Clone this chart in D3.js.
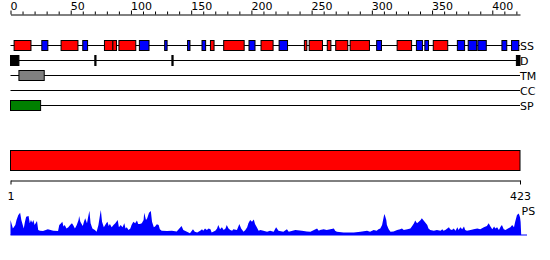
<!DOCTYPE html>
<meta charset="utf-8" />
<style>
  body { margin: 0; background: #fff; }
  svg { display: block; }
  text { font-family: "DejaVu Sans", sans-serif; font-size: 11px; fill: #000; }
</style>
<body>
<script src="https://d3js.org/d3.v7.min.js"></script>
<script>
  // sequence length
  var seqLen = 423;

  // secondary structure (H = helix, E = strand)
  var ssStart = [3, 26, 42, 60, 78, 85, 90, 107, 128, 147, 159, 166, 177, 198, 208, 223, 244, 248, 263, 270, 282, 304, 321, 337, 344, 351, 371, 380, 388, 408, 416];
  var ssEnd   = [17, 31, 56, 64, 85, 88, 104, 115, 130, 149, 162, 169, 194, 203, 218, 230, 246, 259, 266, 280, 298, 308, 333, 342, 347, 363, 377, 387, 395, 412, 422];
  var ssType  = ["H","E","H","E","H","H","H","E","E","E","E","H","H","E","H","E","H","H","H","H","H","E","H","E","E","H","E","E","E","E","E"];

  // disorder (D), transmembrane (TM), coiled coil (CC), signal peptide (SP)
  var dStart = [0, 70, 134, 420];
  var dEnd   = [7, 71, 135, 423];
  var tmStart = [7];
  var tmEnd   = [28];
  var ccStart = [];
  var ccEnd   = [];
  var spStart = [0];
  var spEnd   = [25];

  var trackNames = ["SS", "D", "TM", "CC", "SP"];

  // profile (PS)
  var psPos = [0, 2, 4, 5, 6.5, 8, 9, 11, 12, 13, 15, 16, 17, 18, 19, 20, 22, 23, 24.5, 27, 31, 35.5, 39.5, 40.5, 42, 43, 44, 45, 46.5, 48, 49.5, 51, 52, 53.5, 55, 56.5, 57, 58, 60, 61, 62, 63.5, 64.5, 65.5, 66.5, 68, 70, 71.5, 73, 74.5, 75, 76, 77.5, 79.5, 80.5, 81.5, 82.5, 84, 85.5, 87, 89, 90, 91.5, 93, 94.5, 95.5, 96.5, 98, 99.5, 100.5, 102, 103.5, 105, 106, 107.5, 109, 110.5, 111, 112.5, 113.5, 115, 116.5, 117.5, 119, 120, 121.5, 123, 124, 125.5, 130, 134, 138, 142, 143.5, 146.5, 149, 151.5, 153, 155, 157.5, 159, 160, 161.5, 163, 164.5, 166, 167, 170, 171.5, 172.5, 174, 175.5, 177, 178.5, 179.5, 181, 182.5, 184, 185, 188, 190, 191.5, 193.5, 195, 196.5, 197.5, 199, 200.5, 202, 203, 204.5, 206, 207.5, 210, 213, 215.5, 218.5, 220.5, 222.5, 226.5, 229.5, 231, 236.5, 242, 246, 249, 254.5, 256, 257, 260, 262.5, 265.5, 268.5, 269.5, 271, 276.5, 285, 290.5, 296, 298.5, 301.5, 304, 305.5, 307, 308.5, 310, 310.5, 312, 312.5, 314, 315.5, 318, 321, 323.5, 325, 326.5, 329.5, 332, 333.5, 335, 336, 337.5, 339, 340.5, 341.5, 343, 344.5, 346, 347, 348.5, 351.5, 354, 357, 358.5, 359.5, 361, 364, 365, 366.5, 368, 369.5, 371, 372, 373.5, 375, 376.5, 377.5, 379, 382, 384.5, 387.5, 390, 393, 395.5, 397, 398.5, 400, 401.5, 402.5, 404, 405.5, 407, 408, 409.5, 411, 413, 415, 416.5, 418, 419, 420.5, 422, 423, 423.5, 424];
  var psVal = [0.5, 0.22, 0.33, 0.5, 0.67, 0.74, 0.5, 0.22, 0.44, 0.61, 0.63, 0.39, 0.5, 0.41, 0.5, 0.33, 0.47, 0.17, 0.14, 0.13, 0.19, 0.14, 0.13, 0.33, 0.39, 0.44, 0.28, 0.33, 0.22, 0.26, 0.33, 0.39, 0.33, 0.22, 0.33, 0.5, 0.63, 0.44, 0.3, 0.44, 0.56, 0.39, 0.61, 0.81, 0.39, 0.22, 0.17, 0.11, 0.33, 0.72, 0.83, 0.44, 0.26, 0.39, 0.44, 0.3, 0.37, 0.26, 0.33, 0.39, 0.5, 0.26, 0.33, 0.26, 0.39, 0.22, 0.26, 0.17, 0.22, 0.33, 0.44, 0.39, 0.48, 0.37, 0.37, 0.39, 0.5, 0.74, 0.5, 0.56, 0.74, 0.8, 0.44, 0.26, 0.28, 0.36, 0.33, 0.19, 0.14, 0.13, 0.14, 0.12, 0.3, 0.17, 0.11, 0.06, 0.19, 0.11, 0.08, 0.14, 0.19, 0.14, 0.22, 0.17, 0.22, 0.19, 0.08, 0.14, 0.22, 0.33, 0.19, 0.26, 0.17, 0.22, 0.33, 0.22, 0.17, 0.14, 0.19, 0.17, 0.37, 0.22, 0.11, 0.17, 0.26, 0.39, 0.5, 0.44, 0.52, 0.37, 0.26, 0.14, 0.17, 0.14, 0.11, 0.14, 0.11, 0.26, 0.14, 0.11, 0.19, 0.11, 0.17, 0.14, 0.12, 0.11, 0.22, 0.14, 0.17, 0.19, 0.17, 0.19, 0.22, 0.14, 0.11, 0.08, 0.08, 0.11, 0.14, 0.11, 0.17, 0.14, 0.19, 0.22, 0.33, 0.63, 0.7, 0.5, 0.33, 0.19, 0.11, 0.12, 0.17, 0.19, 0.22, 0.17, 0.19, 0.22, 0.3, 0.39, 0.48, 0.39, 0.44, 0.5, 0.56, 0.48, 0.41, 0.33, 0.22, 0.17, 0.14, 0.17, 0.14, 0.19, 0.14, 0.17, 0.26, 0.19, 0.17, 0.22, 0.14, 0.26, 0.17, 0.26, 0.19, 0.28, 0.17, 0.14, 0.17, 0.19, 0.22, 0.19, 0.26, 0.3, 0.39, 0.28, 0.19, 0.28, 0.22, 0.26, 0.17, 0.28, 0.33, 0.19, 0.17, 0.22, 0.26, 0.33, 0.26, 0.44, 0.67, 0.72, 0.59, 0.44, 0];

  var width = 550, height = 260;

  var svg = d3.select("body").append("svg")
    .attr("width", width)
    .attr("height", height);

  var x = d3.scaleLinear().domain([0, seqLen]).range([10.5, 520]);

  // top ruler, labels start at their tick
  var topAxis = svg.append("g")
    .attr("transform", "translate(0,14.5)")
    .call(d3.axisTop(x)
      .tickValues(d3.range(0, 421, 10))
      .tickSize(3)
      .tickSizeOuter(0)
      .tickPadding(2)
      .tickFormat(function(d) { return d % 50 ? "" : d; }));
  topAxis.attr("font-family", null).attr("font-size", null).attr("text-anchor", null);
  topAxis.selectAll("text").style("text-anchor", "start").attr("x", -0.5);
  topAxis.selectAll(".tick line").filter(function(d) { return d % 50 === 0; }).attr("y2", -4);

  // tracks
  var trackY = d3.scalePoint().domain(trackNames).range([45.5, 105.5]);

  function track(name, starts, ends, fill) {
    var y = trackY(name);
    var g = svg.append("g");
    g.append("line")
      .attr("x1", x(0)).attr("x2", x(seqLen))
      .attr("y1", y).attr("y2", y)
      .attr("stroke", "#000");
    g.selectAll("rect")
      .data(d3.range(starts.length))
      .enter()
      .append("rect")
      .attr("x", function(i) { return x(starts[i]); })
      .attr("width", function(i) { return x(ends[i]) - x(starts[i]); })
      .attr("y", y - 5)
      .attr("height", 10)
      .attr("fill", function(i) { return typeof fill === "function" ? fill(i) : fill; })
      .attr("stroke", "#000");
    g.append("text")
      .attr("x", x(seqLen))
      .attr("y", y + 4.5)
      .text(name);
  }

  track("SS", ssStart, ssEnd, function(i) { return ssType[i] === "H" ? "#ff0000" : "#0000ff"; });
  track("D", dStart, dEnd, "#000");
  track("TM", tmStart, tmEnd, "#808080");
  track("CC", ccStart, ccEnd, "#000");
  track("SP", spStart, spEnd, "#008000");

  // whole-chain bar
  svg.append("rect")
    .attr("x", x(0))
    .attr("width", x(seqLen) - x(0))
    .attr("y", 150.5)
    .attr("height", 20)
    .attr("fill", "#ff0000")
    .attr("stroke", "#000");

  // bottom ruler
  var xb = d3.scaleLinear().domain([1, seqLen]).range(x.range());
  var bottomAxis = svg.append("g")
    .attr("transform", "translate(0,180.5)")
    .call(d3.axisBottom(xb)
      .tickValues([1, seqLen])
      .tickSize(4)
      .tickSizeOuter(0)
      .tickPadding(7.5));
  bottomAxis.attr("font-family", null).attr("font-size", null);

  // profile
  var yPS = d3.scaleLinear().domain([0, 1]).range([235, 205]);
  var psData = psPos.map(function(p, i) { return { pos: p, val: psVal[i] }; });

  svg.append("path")
    .datum(psData)
    .attr("fill", "#0000ff")
    .attr("d", d3.area()
      .x(function(d) { return x(d.pos); })
      .y0(yPS(0))
      .y1(function(d) { return yPS(d.val); }));

  svg.append("line")
    .attr("x1", x(0)).attr("x2", x(seqLen) + 7)
    .attr("y1", yPS(0)).attr("y2", yPS(0))
    .attr("stroke", "#0000ff");

  svg.append("text")
    .attr("x", x(seqLen) + 1.5)
    .attr("y", 215)
    .text("PS");
</script>
</body>
